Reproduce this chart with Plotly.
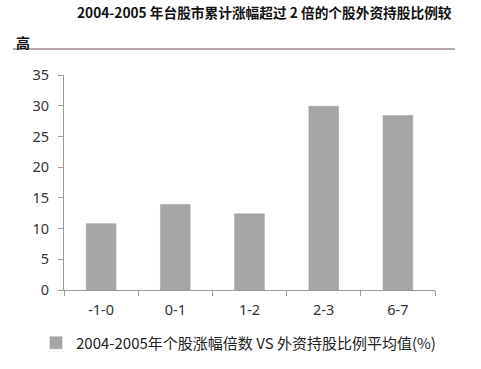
import plotly.graph_objects as go

categories = ["-1-0", "0-1", "1-2", "2-3", "6-7"]
values = [10.8, 13.9, 12.4, 29.9, 28.4]
y_ticks = [0, 5, 10, 15, 20, 25, 30, 35]
series_name = "2004-2005年个股涨幅倍数 VS 外资持股比例平均值(%)"
title_line1 = "<b>2004-2005 年台股市累计涨幅超过 2 倍的个股外资持股比例较</b>"
title_line2 = "<b>高</b>"

W, H = 481, 369
fig = go.Figure()
fig.add_trace(go.Bar(
    x=categories, y=values, name=series_name,
    marker=dict(color="#a6a6a6", line=dict(color="#9a9a9a", width=0.5)),
    width=0.4, showlegend=True,
))

axis_color = "#9a9a9a"
fig.update_layout(
    width=W, height=H,
    margin=dict(l=64, r=46, t=75, b=79, autoexpand=False),
    paper_bgcolor="white", plot_bgcolor="white",
    font=dict(family="Noto Sans, Noto Sans CJK SC", color="#333333"),
    xaxis=dict(
        showline=True, linecolor=axis_color, linewidth=1,
        ticks="outside", tickson="boundaries", ticklen=5, tickcolor=axis_color,
        tickfont=dict(size=14.5, color="#333333"), showgrid=False,
        ticklabelstandoff=7,
    ),
    yaxis=dict(
        range=[0, 35], tickvals=y_ticks, showline=True, linecolor=axis_color,
        linewidth=1, ticks="outside", ticklen=5, tickcolor=axis_color,
        tickfont=dict(size=14.5, color="#333333"), showgrid=False, zeroline=False,
        ticklabelstandoff=6,
    ),
    legend=dict(
        orientation="h", xref="container", yref="container",
        x=36 / W, xanchor="left", y=1 - 343 / H, yanchor="middle",
        font=dict(size=15, family="Noto Sans CJK SC", color="#222222"),
        itemwidth=30, bgcolor="rgba(0,0,0,0)",
    ),
    showlegend=True,
)

fig.add_annotation(
    xref="paper", yref="paper", x=(453 - 64) / 371, y=1 + (75 - 12) / 215,
    xanchor="right", yanchor="middle", showarrow=False, borderpad=0,
    text=title_line1, font=dict(size=13.7, family="Noto Sans CJK SC", color="#111111"),
)
fig.add_annotation(
    xref="paper", yref="paper", x=(14 - 64) / 371, y=1 + (75 - 42) / 215,
    xanchor="left", yanchor="middle", showarrow=False,
    text=title_line2, font=dict(size=14, family="Noto Sans CJK SC", color="#111111"),
)
fig.add_shape(
    type="line", xref="paper", yref="paper",
    x0=(13 - 64) / 371, x1=(455 - 64) / 371,
    y0=1 + (75 - 49) / 215, y1=1 + (75 - 49) / 215,
    line=dict(color="#a08c88", width=1.5),
)

fig.write_html(
    "out.html",
    config={"displayModeBar": False},
    post_script="document.body.style.margin='0';",
)
